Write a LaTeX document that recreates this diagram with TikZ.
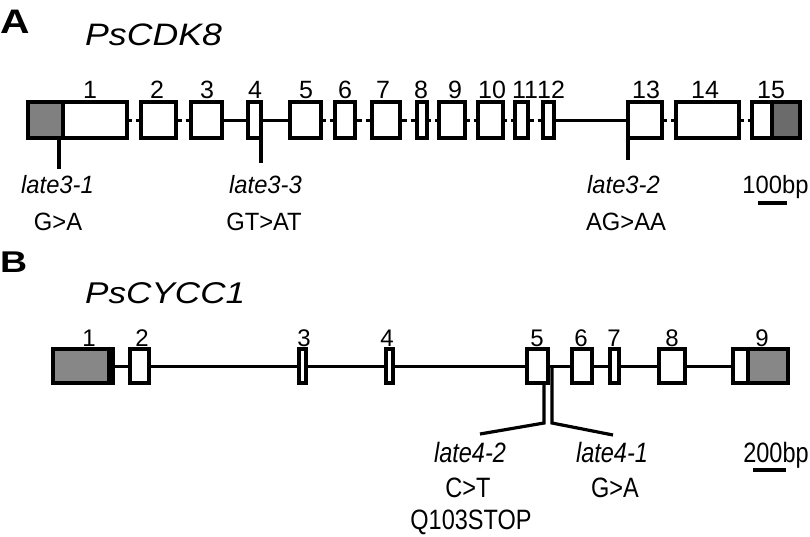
\documentclass[tikz,border=0pt]{standalone}
\usepackage{fontspec}
\usepackage{graphicx}
\setmainfont{Liberation Sans}
\usetikzlibrary{calc}
\definecolor{exgrayA}{gray}{0.50}
\definecolor{exgrayAd}{gray}{0.42}
\definecolor{exgrayB}{gray}{0.53}
\tikzset{
  exon/.style={draw=black, fill=white, line width=3.2pt, inner sep=0pt, outer sep=0pt},
  exonopen/.style={draw=black, fill=none, line width=3.2pt, inner sep=0pt, outer sep=0pt},
  divider/.style={line width=3.2pt},
  intron/.style={line width=3pt},
  mutline/.style={line width=3.2pt},
  scalebar/.style={line width=3.2pt},
  numA/.style={anchor=base, inner sep=0pt, font=\fontsize{25}{28}\selectfont},
  numB/.style={anchor=base, inner sep=0pt, font=\fontsize{24}{27}\selectfont},
  labA/.style={anchor=base, inner sep=0pt, font=\fontsize{25}{28}\selectfont},
  labB/.style={anchor=base, inner sep=0pt, font=\fontsize{28}{32}\selectfont},
  title/.style={anchor=base west, inner sep=0pt},
}
\newcommand\exonbox[6][exon]{%
  \node[#1, minimum width={(#4-#3)*1pt}, minimum height={(#6-#5)*1pt}] (#2) at ({(#3+#4)/2},{(#5+#6)/2}) {};}
\newcommand\intronsolid[2]{\draw[intron] (#1.east) -- (#2.west);}
\newcommand\intronbroken[2]{%
  \draw[intron] (#1.east) -- ($(#1.east)!0.5!(#2.west)+(-2,0)$);
  \draw[intron] ($(#1.east)!0.5!(#2.west)+(2,0)$) -- (#2.west);}
\newcommand\sA[1]{\scalebox{0.95}[1]{#1}}
\newcommand\sB[1]{\scalebox{0.84}[1]{#1}}
\begin{document}
\begin{tikzpicture}[x=1pt,y=-1pt]
\useasboundingbox (0,0) rectangle (810,536);

% ---------- Panel A ----------
\node[title] (lblA) at (0,33) {\scalebox{1.2}[1]{\fontsize{34}{38}\selectfont\bfseries A}};
\node[title] (geneA) at (85,45) {\scalebox{1.15}[1]{\fontsize{31}{35}\selectfont\itshape PsCDK8}};

\fill[exgrayA] (28,102) rectangle (63,138);
\fill[exgrayAd] (772,102) rectangle (800,138);

\exonbox[exonopen]{a1}{28}{127}{102}{138}
\exonbox{a2}{141}{176}{102}{138}
\exonbox{a3}{191}{222}{102}{138}
\exonbox{a4}{248}{261}{102}{138}
\exonbox{a5}{290}{321}{102}{138}
\exonbox{a6}{335}{355}{102}{138}
\exonbox{a7}{372}{400}{102}{138}
\exonbox{a8}{417}{427}{102}{138}
\exonbox{a9}{439}{465}{102}{138}
\exonbox{a10}{478}{503}{102}{138}
\exonbox{a11}{515}{528}{102}{138}
\exonbox{a12}{543}{554}{102}{138}
\exonbox{a13}{628}{662}{102}{138}
\exonbox{a14}{676}{739}{102}{138}
\exonbox[exonopen]{a15}{752}{800}{102}{138}
\draw[divider] (63,102) -- (63,138);
\draw[divider] (772,102) -- (772,138);

\intronbroken{a1}{a2}
\intronbroken{a2}{a3}
\intronsolid{a3}{a4}
\intronsolid{a4}{a5}
\intronbroken{a5}{a6}
\intronbroken{a6}{a7}
\intronbroken{a7}{a8}
\intronbroken{a8}{a9}
\intronbroken{a9}{a10}
\intronbroken{a10}{a11}
\intronbroken{a11}{a12}
\intronsolid{a12}{a13}
\intronbroken{a13}{a14}
\intronbroken{a14}{a15}

\node[numA] (na1) at (90,98) {1};
\node[numA] (na2) at (157,98) {2};
\node[numA] (na3) at (207,98) {3};
\node[numA] (na4) at (255,98) {4};
\node[numA] (na5) at (306,98) {5};
\node[numA] (na6) at (345,98) {6};
\node[numA] (na7) at (383,98) {7};
\node[numA] (na8) at (421,98) {8};
\node[numA] (na9) at (455,98) {9};
\node[numA] (na10) at (492,98) {10};
\node[numA] (na11) at (525,98) {11};
\node[numA] (na12) at (551,98) {12};
\node[numA] (na13) at (646,98) {13};
\node[numA] (na14) at (705,98) {14};
\node[numA] (na15) at (771,98) {15};

\coordinate (m1top) at (59,138);
\coordinate (m1bot) at (59,169);
\coordinate (m3bot) at (261,163);
\coordinate (m2bot) at (628,160);
\draw[mutline] (m1top) -- (m1bot);
\draw[mutline] (a4.south east) -- (m3bot);
\draw[mutline] (a13.south west) -- (m2bot);

\node[labA] (l31) at (57.5,193) {\sA{\itshape late3-1}};
\node[labA] (l31m) at (58,230) {\sA{G>A}};
\node[labA] (l33) at (265.5,193) {\sA{\itshape late3-3}};
\node[labA] (l33m) at (264,230) {\sA{GT>AT}};
\node[labA] (l32) at (623.5,193) {\sA{\itshape late3-2}};
\node[labA] (l32m) at (626,230) {\sA{AG>AA}};
\node[labA] (scA) at (775.5,193) {\sA{100bp}};
\coordinate (sbA1) at (758,203);
\coordinate (sbA2) at (787,203);
\draw[scalebar] (sbA1) -- (sbA2);

% ---------- Panel B ----------
\node[title] (lblB) at (0,272) {\scalebox{1.25}[1]{\fontsize{30}{34}\selectfont\bfseries B}};
\node[title] (geneB) at (85,303) {\scalebox{1.17}[1]{\fontsize{30}{34}\selectfont\itshape PsCYCC1}};

\fill[exgrayB] (53,349) rectangle (109,383);
\fill[exgrayB] (748,349) rectangle (788,383);

\exonbox[exonopen]{b1}{53}{113}{349}{383}
\exonbox{b2}{130}{149}{349}{383}
\exonbox{b3}{299}{306}{349}{383}
\exonbox{b4}{386}{393}{349}{383}
\exonbox{b5}{527}{548}{349}{383}
\exonbox{b6}{572}{592}{349}{383}
\exonbox{b7}{610}{619}{349}{383}
\exonbox{b8}{659}{685}{349}{383}
\exonbox[exonopen]{b9}{733}{788}{349}{383}
\draw[divider] (109,349) -- (109,383);
\draw[divider] (748,349) -- (748,383);

\intronsolid{b1}{b2}
\intronsolid{b2}{b3}
\intronsolid{b3}{b4}
\intronsolid{b4}{b5}
\intronsolid{b5}{b6}
\intronsolid{b6}{b7}
\intronsolid{b7}{b8}
\intronsolid{b8}{b9}

\node[numB] (nb1) at (89,346) {1};
\node[numB] (nb2) at (142,346) {2};
\node[numB] (nb3) at (304,346) {3};
\node[numB] (nb4) at (387,346) {4};
\node[numB] (nb5) at (537,346) {5};
\node[numB] (nb6) at (581,346) {6};
\node[numB] (nb7) at (614,346) {7};
\node[numB] (nb8) at (672,346) {8};
\node[numB] (nb9) at (762,346) {9};

\coordinate (k2top) at (544,383);
\coordinate (k2knee) at (544,423);
\coordinate (k2end) at (480,434);
\coordinate (k1top) at (552,366);
\coordinate (k1knee) at (552,423);
\coordinate (k1end) at (613,435);
\draw[mutline, line join=miter] (k2top) -- (k2knee) -- (k2end);
\draw[mutline, line join=miter] (k1top) -- (k1knee) -- (k1end);

\node[labB] (l42) at (470,462) {\sB{\itshape late4-2}};
\node[labB] (l42m) at (468,497) {\sB{C>T}};
\node[labB] (l42p) at (471,529) {\sB{Q103STOP}};
\node[labB] (l41) at (612,462) {\sB{\itshape late4-1}};
\node[labB] (l41m) at (615,497) {\sB{G>A}};
\node[labB] (scB) at (776,462) {\sB{200bp}};
\coordinate (sbB1) at (753,470);
\coordinate (sbB2) at (786,470);
\draw[scalebar] (sbB1) -- (sbB2);
\end{tikzpicture}
\end{document}
